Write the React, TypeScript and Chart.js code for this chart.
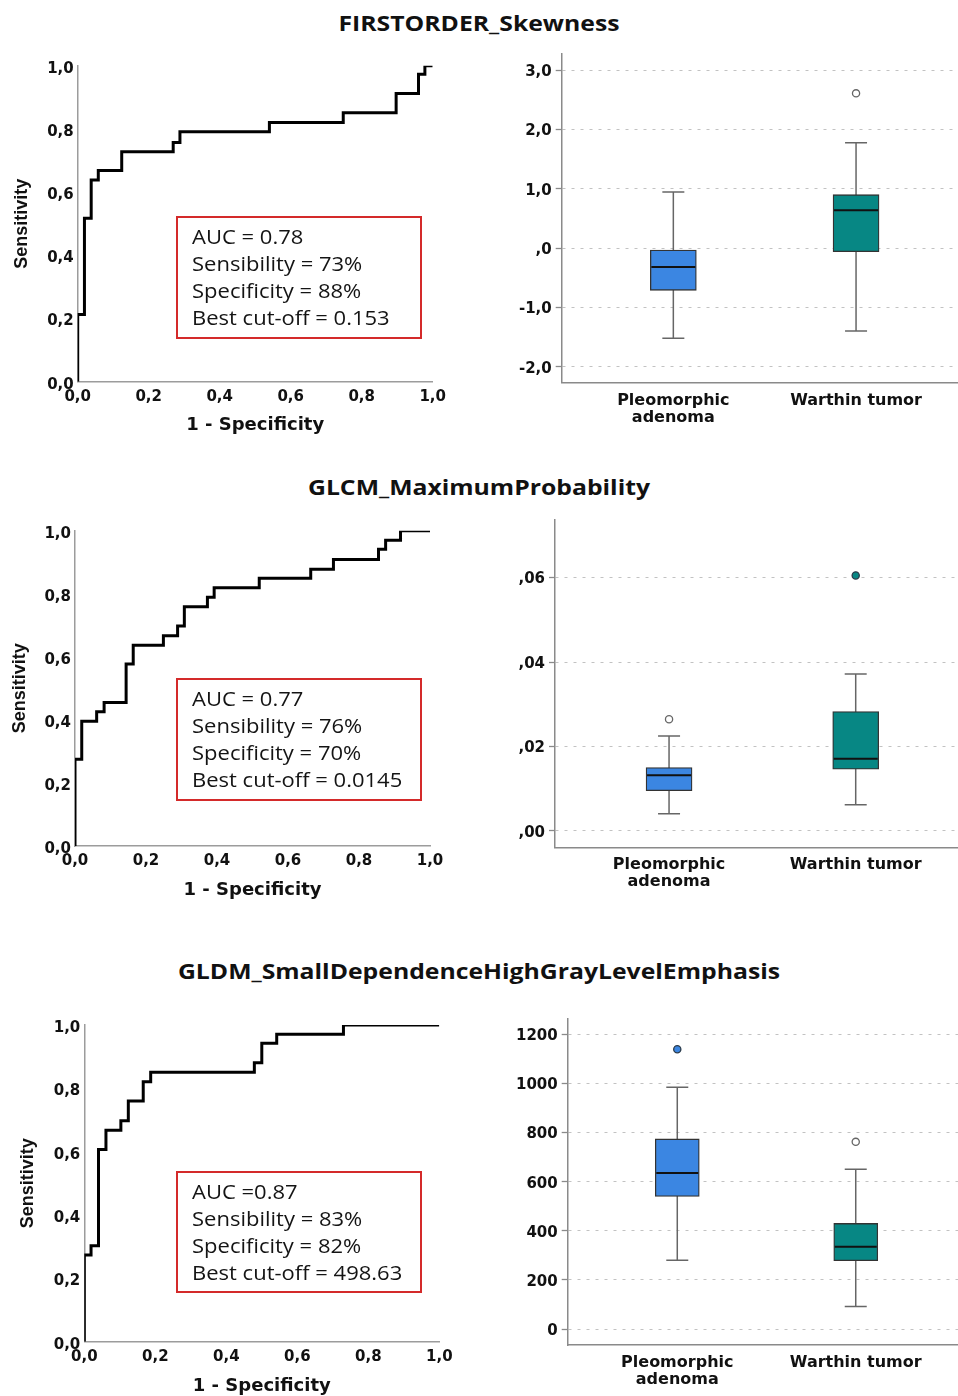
import React, { useEffect, useRef } from "react";
import { Chart, registerables } from "chart.js";

Chart.register(...registerables);

// ---------------- DATA ----------------
const FIGURE_TITLES = [
  "FIRSTORDER_Skewness",
  "GLCM_MaximumProbability",
  "GLDM_SmallDependenceHighGrayLevelEmphasis",
];

const ROC_TICK_VALUES = [0, 0.2, 0.4, 0.6, 0.8, 1.0];
const ROC_TICK_LABELS = ["0,0", "0,2", "0,4", "0,6", "0,8", "1,0"];
const ROC_X_TITLE = "1 - Specificity";
const ROC_Y_TITLE = "Sensitivity";

// ROC points (1 - specificity, sensitivity)
const roc1Fpr = [0, 0, 0.019, 0.038, 0.058, 0.124, 0.269, 0.288, 0.54, 0.748, 0.897, 0.96, 0.978, 1.0];
const roc1Tpr = [0, 0.213, 0.517, 0.638, 0.668, 0.728, 0.757, 0.791, 0.82, 0.851, 0.912, 0.973, 1.0, 1.0];

const roc2Fpr = [0, 0, 0.019, 0.061, 0.082, 0.144, 0.164, 0.249, 0.289, 0.308, 0.373, 0.392, 0.519, 0.664, 0.728, 0.855, 0.875, 0.917, 1.0];
const roc2Tpr = [0, 0.275, 0.396, 0.426, 0.455, 0.577, 0.637, 0.667, 0.698, 0.759, 0.789, 0.819, 0.849, 0.878, 0.909, 0.941, 0.97, 1.0, 1.0];

const roc3Fpr = [0, 0, 0.019, 0.04, 0.061, 0.103, 0.124, 0.166, 0.187, 0.479, 0.5, 0.542, 0.73, 1.0];
const roc3Tpr = [0, 0.274, 0.303, 0.607, 0.668, 0.698, 0.76, 0.821, 0.851, 0.881, 0.942, 0.971, 1.0, 1.0];

const roc1Stats = ["AUC = 0.78", "Sensibility = 73%", "Specificity = 88%", "Best cut-off = 0.153"];
const roc2Stats = ["AUC = 0.77", "Sensibility = 76%", "Specificity = 70%", "Best cut-off = 0.0145"];
const roc3Stats = ["AUC =0.87", "Sensibility = 83%", "Specificity = 82%", "Best cut-off = 498.63"];

const GROUPS: (string | string[])[] = [["Pleomorphic", "adenoma"], "Warthin tumor"];
const GROUP_POSITIONS = [1, 2];

// Box plot 1: FIRSTORDER_Skewness
const box1Min = [-1.52, -1.4];
const box1Q1 = [-0.713, -0.062];
const box1Median = [-0.32, 0.635];
const box1Q3 = [-0.034, 0.899];
const box1Max = [0.944, 1.775];
const box1Outliers = [[], [2.607]];
const box1OutlierKinds = [[], ["o"]];
const box1TickValues = [-2, -1, 0, 1, 2, 3];
const box1TickLabels = ["-2,0", "-1,0", ",0", "1,0", "2,0", "3,0"];

// Box plot 2: GLCM_MaximumProbability
const box2Min = [0.0041, 0.00624];
const box2Q1 = [0.00955, 0.01461];
const box2Median = [0.01319, 0.01713];
const box2Q3 = [0.015, 0.02827];
const box2Max = [0.0225, 0.0372];
const box2Outliers = [[0.02645], [0.0605]];
const box2OutlierKinds = [["o"], ["*"]];
const box2TickValues = [0, 0.02, 0.04, 0.06];
const box2TickLabels = [",00", ",02", ",04", ",06"];

// Box plot 3: GLDM_SmallDependenceHighGrayLevelEmphasis
const box3Min = [280, 92];
const box3Q1 = [540, 278];
const box3Median = [635, 335];
const box3Q3 = [774, 430];
const box3Max = [984, 650];
const box3Outliers = [[1139], [762]];
const box3OutlierKinds = [["*"], ["o"]];
const box3TickValues = [0, 200, 400, 600, 800, 1000, 1200];
const box3TickLabels = ["0", "200", "400", "600", "800", "1000", "1200"];

// ---------------- STYLE / LAYOUT ----------------
const GROUP_COLORS = ["#3b86e2", "#078784"];
const TICK_FONT = { family: "DejaVu Sans", weight: "bold" as const, size: 15 };
const GROUP_FONT = { family: "DejaVu Sans", weight: "bold" as const, size: 16, lineHeight: 1.05 };
const X_TITLE_FONT = { family: "DejaVu Sans", weight: "bold" as const, size: 18, lineHeight: 1 };
const Y_TITLE_FONT = { family: "Liberation Sans", weight: "bold" as const, size: 18, lineHeight: 1 };

type Rect = { x: number; y: number; w: number; h: number };
type Area = { l: number; t: number; r: number; b: number };

const ROC_LAYOUT = [
  { canvas: { x: 0, y: 40, w: 455, h: 405 }, area: { l: 77.7, t: 65.7, r: 432.7, b: 381.7 }, yTitlePad: 13, xTitlePad: 11, box: { x: 176, y: 216, w: 246, h: 123, padTop: 5 } },
  { canvas: { x: 0, y: 505, w: 455, h: 405 }, area: { l: 75, t: 530.7, r: 430, b: 846 }, yTitlePad: 11, xTitlePad: 11, box: { x: 176, y: 678, w: 246, h: 123, padTop: 5 } },
  { canvas: { x: 0, y: 1000, w: 458, h: 396 }, area: { l: 84.3, t: 1025, r: 439.3, b: 1341.7 }, yTitlePad: 19, xTitlePad: 0.3, box: { x: 176, y: 1171, w: 246, h: 122, padTop: 4.5 } },
];

const BOX_LAYOUT = [
  { canvas: { x: 480, y: 40, w: 478, h: 400 }, area: { l: 561.7, t: 54, r: 958, b: 382.7 }, yMin: -2.27, yMax: 3.27, xMin: 0.389, xMax: 2.558, barWidth: 46 },
  { canvas: { x: 480, y: 505, w: 478, h: 400 }, area: { l: 555, t: 519.3, r: 958, b: 847.3 }, yMin: -0.00386, yMax: 0.0738, xMin: 0.389, xMax: 2.548, barWidth: 46 },
  { canvas: { x: 480, y: 1000, w: 478, h: 396 }, area: { l: 567.7, t: 1018.3, r: 958, b: 1345 }, yMin: -65, yMax: 1265, xMin: 0.386, xMax: 2.573, barWidth: 44 },
];

const TITLE_CENTERS = [22, 486, 970];

// ---------------- HELPERS ----------------
function fixedAxis(size: number, isY: boolean) {
  return (s: any) => {
    if (isY) s.width = size;
    else s.height = size;
    s.paddingLeft = 0;
    s.paddingRight = 0;
    s.paddingTop = 0;
    s.paddingBottom = 0;
  };
}

function setTicks(values: number[]) {
  return (s: any) => {
    s.ticks = values.map((v) => ({ value: v }));
  };
}

function padFor(canvas: Rect, area: Area) {
  return {
    layout: { left: 0, top: area.t - canvas.y, right: canvas.x + canvas.w - area.r, bottom: 0 },
    yWidth: area.l - canvas.x,
    xHeight: canvas.y + canvas.h - area.b,
  };
}

function rocConfig(fpr: number[], tpr: number[], lay: (typeof ROC_LAYOUT)[number]): any {
  const p = padFor(lay.canvas, lay.area);
  return {
    type: "scatter",
    data: {
      datasets: [
        {
          data: fpr.map((x, i) => ({ x, y: tpr[i] })),
          showLine: true,
          stepped: true,
          borderColor: "#000",
          borderWidth: 3,
          pointRadius: 0,
          fill: false,
        },
      ],
    },
    options: {
      responsive: false,
      animation: false,
      devicePixelRatio: 1,
      events: [],
      layout: { padding: p.layout, autoPadding: false },
      plugins: { legend: { display: false }, tooltip: { enabled: false } },
      scales: {
        x: {
          type: "linear",
          min: 0,
          max: 1,
          afterBuildTicks: setTicks(ROC_TICK_VALUES),
          afterFit: fixedAxis(p.xHeight, false),
          grid: { display: false, drawTicks: false },
          border: { display: true, color: "#9c9c9c", width: 1.5 },
          ticks: {
            callback: (_v: any, i: number) => ROC_TICK_LABELS[i],
            padding: 6.5,
            font: TICK_FONT,
            color: "#111",
            autoSkip: false,
            maxRotation: 0,
          },
          title: { display: true, text: ROC_X_TITLE, font: X_TITLE_FONT, color: "#111", padding: { top: 0, bottom: lay.xTitlePad } },
        },
        y: {
          type: "linear",
          min: 0,
          max: 1,
          afterBuildTicks: setTicks(ROC_TICK_VALUES),
          afterFit: fixedAxis(p.yWidth, true),
          grid: { display: false, drawTicks: false },
          border: { display: true, color: "#9c9c9c", width: 1.5 },
          ticks: {
            callback: (_v: any, i: number) => ROC_TICK_LABELS[i],
            padding: 4,
            labelOffset: 3,
            font: TICK_FONT,
            color: "#111",
            autoSkip: false,
          },
          title: { display: true, text: ROC_Y_TITLE, font: Y_TITLE_FONT, color: "#111", padding: { top: lay.yTitlePad, bottom: 0 } },
        },
      },
    },
  };
}

function boxConfig(
  mins: number[], q1: number[], med: number[], q3: number[], maxs: number[],
  outliers: number[][], kinds: string[][], tickValues: number[], tickLabels: string[],
  lay: (typeof BOX_LAYOUT)[number]
): any {
  const p = padFor(lay.canvas, lay.area);
  const whiskers = GROUP_POSITIONS.map((gx, i) => ({
    type: "scatter",
    data: [{ x: gx, y: mins[i] }, { x: gx, y: maxs[i] }],
    showLine: true,
    borderColor: "#666",
    borderWidth: 1.5,
    pointRadius: 0,
    order: 5,
  }));
  const boxes = {
    type: "bar",
    data: GROUP_POSITIONS.map((gx, i) => ({ x: gx, y: [q1[i], q3[i]] })),
    backgroundColor: GROUP_COLORS,
    borderColor: "#333",
    borderWidth: 1.3,
    borderSkipped: false,
    barThickness: lay.barWidth,
    order: 3,
  };
  const capData: { x: number; y: number }[] = [];
  GROUP_POSITIONS.forEach((gx, i) => {
    capData.push({ x: gx, y: mins[i] });
    capData.push({ x: gx, y: maxs[i] });
  });
  const caps = {
    type: "scatter",
    data: capData,
    pointStyle: "line",
    pointRadius: 11,
    pointBorderColor: "#666",
    pointBorderWidth: 1.5,
    order: 2,
  };
  const medians = {
    type: "scatter",
    data: GROUP_POSITIONS.map((gx, i) => ({ x: gx, y: med[i] })),
    pointStyle: "line",
    pointRadius: lay.barWidth / 2 - 1,
    pointBorderColor: "#111",
    pointBorderWidth: 2,
    order: 1,
  };
  const outData: { x: number; y: number }[] = [];
  const outFill: string[] = [];
  const outBorder: string[] = [];
  GROUP_POSITIONS.forEach((gx, i) => {
    outliers[i].forEach((v, j) => {
      outData.push({ x: gx, y: v });
      const filled = kinds[i][j] === "*";
      outFill.push(filled ? GROUP_COLORS[i] : "#fff");
      outBorder.push(filled ? "#2b3b4a" : "#666");
    });
  });
  const outs = {
    type: "scatter",
    data: outData,
    pointStyle: "circle",
    pointRadius: 3.6,
    pointBackgroundColor: outFill,
    pointBorderColor: outBorder,
    pointBorderWidth: 1.3,
    order: 0,
  };

  return {
    type: "scatter",
    data: { datasets: [...whiskers, boxes, caps, medians, outs] },
    options: {
      responsive: false,
      animation: false,
      devicePixelRatio: 1,
      events: [],
      layout: { padding: p.layout, autoPadding: false },
      plugins: { legend: { display: false }, tooltip: { enabled: false } },
      scales: {
        x: {
          type: "linear",
          min: lay.xMin,
          max: lay.xMax,
          offset: false,
          afterBuildTicks: setTicks(GROUP_POSITIONS),
          afterFit: fixedAxis(p.xHeight, false),
          grid: { display: false, drawTicks: false, offset: false },
          border: { display: true, color: "#8a8a8a", width: 1.5 },
          ticks: {
            callback: (_v: any, i: number) => GROUPS[i],
            padding: 9.5,
            font: GROUP_FONT,
            color: "#111",
            autoSkip: false,
            maxRotation: 0,
          },
        },
        y: {
          type: "linear",
          min: lay.yMin,
          max: lay.yMax,
          beginAtZero: false,
          afterBuildTicks: setTicks(tickValues),
          afterFit: fixedAxis(p.yWidth, true),
          grid: { display: true, color: "#c2c2c2", lineWidth: 1, drawTicks: true, tickLength: 6, tickColor: "#8a8a8a", tickWidth: 1.3 },
          border: { display: true, color: "#8a8a8a", width: 1.5, dash: [3, 6] },
          ticks: {
            callback: (_v: any, i: number) => tickLabels[i],
            padding: 4,
            labelOffset: 2,
            font: TICK_FONT,
            color: "#111",
            autoSkip: false,
          },
        },
      },
    },
  };
}

// ---------------- COMPONENTS ----------------
function ChartCanvas({ config, rect }: { config: any; rect: Rect }) {
  const ref = useRef<HTMLCanvasElement>(null);
  useEffect(() => {
    const chart = new Chart(ref.current as HTMLCanvasElement, config);
    return () => chart.destroy();
  }, []);
  return (
    <canvas
      ref={ref}
      width={rect.w}
      height={rect.h}
      style={{ position: "absolute", left: rect.x, top: rect.y, width: rect.w, height: rect.h }}
    />
  );
}

function StatsBox({ lines, box }: { lines: string[]; box: (typeof ROC_LAYOUT)[number]["box"] }) {
  return (
    <div
      style={{
        position: "absolute",
        left: box.x,
        top: box.y,
        width: box.w,
        height: box.h,
        boxSizing: "border-box",
        border: "2px solid #d42a2a",
        paddingTop: box.padTop,
        paddingLeft: 14,
        fontFamily: "'Open Sans', sans-serif",
        fontSize: 20,
        lineHeight: "27px",
        color: "#141414",
        zIndex: 2,
      }}
    >
      {lines.map((l, i) => (
        <div key={i} style={{ transform: "scaleX(1.1)", transformOrigin: "left center", whiteSpace: "nowrap" }}>
          {l}
        </div>
      ))}
    </div>
  );
}

export default function App() {
  const rocData = [
    [roc1Fpr, roc1Tpr, roc1Stats],
    [roc2Fpr, roc2Tpr, roc2Stats],
    [roc3Fpr, roc3Tpr, roc3Stats],
  ] as [number[], number[], string[]][];

  const boxData = [
    boxConfig(box1Min, box1Q1, box1Median, box1Q3, box1Max, box1Outliers, box1OutlierKinds, box1TickValues, box1TickLabels, BOX_LAYOUT[0]),
    boxConfig(box2Min, box2Q1, box2Median, box2Q3, box2Max, box2Outliers, box2OutlierKinds, box2TickValues, box2TickLabels, BOX_LAYOUT[1]),
    boxConfig(box3Min, box3Q1, box3Median, box3Q3, box3Max, box3Outliers, box3OutlierKinds, box3TickValues, box3TickLabels, BOX_LAYOUT[2]),
  ];

  return (
    <div style={{ position: "absolute", left: 0, top: 0, width: 958, height: 1396, background: "#fff", overflow: "hidden" }}>
      {FIGURE_TITLES.map((t, i) => (
        <div
          key={t}
          style={{
            position: "absolute",
            left: 0,
            width: 958,
            top: TITLE_CENTERS[i] - 13,
            height: 26,
            lineHeight: "26px",
            textAlign: "center",
            fontFamily: "'Open Sans', sans-serif",
            fontWeight: 700,
            fontSize: 22,
            color: "#111",
            transform: "scaleX(1.125)",
            transformOrigin: "479px center",
          }}
        >
          {t}
        </div>
      ))}
      {rocData.map(([f, t, s], i) => (
        <React.Fragment key={"roc" + i}>
          <ChartCanvas config={rocConfig(f, t, ROC_LAYOUT[i])} rect={ROC_LAYOUT[i].canvas} />
          <StatsBox lines={s} box={ROC_LAYOUT[i].box} />
        </React.Fragment>
      ))}
      {boxData.map((cfg, i) => (
        <ChartCanvas key={"box" + i} config={cfg} rect={BOX_LAYOUT[i].canvas} />
      ))}
    </div>
  );
}
